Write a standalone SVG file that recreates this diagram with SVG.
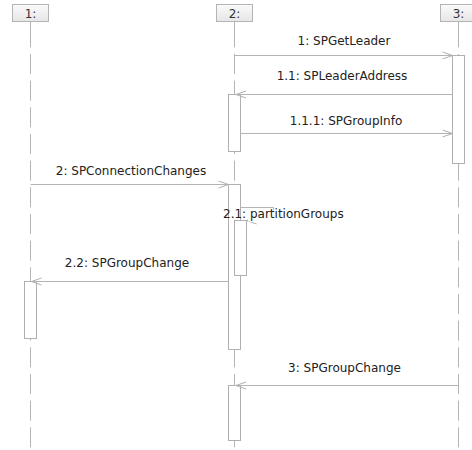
<svg xmlns="http://www.w3.org/2000/svg" width="472" height="450" viewBox="0 0 472 450">
  <defs>
    <linearGradient id="headFill" x1="0" y1="0" x2="0" y2="1">
      <stop offset="0" stop-color="#fafafa"/>
      <stop offset="1" stop-color="#e6e6e6"/>
    </linearGradient>
    <marker id="open" markerUnits="userSpaceOnUse" markerWidth="14" markerHeight="10" viewBox="-12 -5 14 10" refX="0" refY="0" orient="auto">
      <path d="M-10,-3.5 L0,0 L-10,3.5" fill="none" stroke="#b0b0b0" stroke-width="1"/>
    </marker>
  </defs>
  <style>
    .head { fill: url(#headFill); stroke: #b4b4b4; stroke-width: 1; }
    .headtxt { font-family: "DejaVu Sans", Verdana, sans-serif; font-size: 12px; fill: #333; text-anchor: middle; }
    .life { stroke: #b4b4b4; stroke-width: 1; fill: none; }
    .dash { stroke-dasharray: 20 6.67; }
    .act { fill: #ffffff; stroke: #b0b0b0; stroke-width: 1; }
    .msg { stroke: #b4b4b4; stroke-width: 1; fill: none; marker-end: url(#open); }
    .lbl { font-family: "DejaVu Sans", Verdana, sans-serif; font-size: 12px; fill: #222; text-anchor: middle; }
  </style>
  <rect width="472" height="450" fill="#ffffff"/>

  <!-- lifeline 1 -->
  <g id="obj1">
    <line class="life" x1="30.5" y1="21.5" x2="30.5" y2="27.3"/>
    <line class="life dash" x1="30.5" y1="27.3" x2="30.5" y2="450"/>
    <rect class="head" x="12.5" y="4.5" width="36" height="17"/>
    <text class="headtxt" x="30.5" y="17.5">1:</text>
    <rect class="act" x="24.5" y="281.5" width="12" height="57"/>
  </g>

  <!-- lifeline 2 -->
  <g id="obj2">
    <line class="life" x1="234.5" y1="21.5" x2="234.5" y2="27.3"/>
    <line class="life dash" x1="234.5" y1="27.3" x2="234.5" y2="450"/>
    <rect class="head" x="216.5" y="4.5" width="36" height="17"/>
    <text class="headtxt" x="234.5" y="17.5">2:</text>
    <rect class="act" x="228.5" y="94.5" width="12" height="57"/>
    <rect class="act" x="228.5" y="184.5" width="12" height="165"/>
    <rect class="act" x="234.5" y="220.5" width="12" height="55"/>
    <rect class="act" x="228.5" y="385.5" width="12" height="55"/>
  </g>

  <!-- lifeline 3 -->
  <g id="obj3">
    <line class="life" x1="458.5" y1="21.5" x2="458.5" y2="27.3"/>
    <line class="life dash" x1="458.5" y1="27.3" x2="458.5" y2="450"/>
    <rect class="head" x="440.5" y="4.5" width="36" height="17"/>
    <text class="headtxt" x="458.5" y="17.5">3:</text>
    <rect class="act" x="452.5" y="55.5" width="12" height="108"/>
  </g>

  <!-- messages -->
  <g id="messages">
    <line class="msg" x1="234.5" y1="55.5" x2="452.5" y2="55.5"/>
    <text class="lbl" x="344" y="45">1: SPGetLeader</text>

    <line class="msg" x1="452.5" y1="94.5" x2="236" y2="94.5"/>
    <text class="lbl" x="342" y="80">1.1: SPLeaderAddress</text>

    <line class="msg" x1="240.5" y1="133.5" x2="452.5" y2="133.5"/>
    <text class="lbl" x="346" y="125">1.1.1: SPGroupInfo</text>

    <line class="msg" x1="30.5" y1="184.5" x2="228.5" y2="184.5"/>
    <text class="lbl" x="131" y="175">2: SPConnectionChanges</text>

    <path class="msg" d="M240.5,207.5 H273.5 V220.5 H246.5"/>
    <rect x="248" y="210" width="100" height="11.5" fill="#ffffff"/>
    <text class="lbl" x="223" y="218" style="text-anchor:start">2.1: partitionGroups</text>

    <line class="msg" x1="228.5" y1="281.5" x2="31.5" y2="281.5"/>
    <text class="lbl" x="127" y="267">2.2: SPGroupChange</text>

    <line class="msg" x1="458.5" y1="385.5" x2="236" y2="385.5"/>
    <text class="lbl" x="344.5" y="371.5">3: SPGroupChange</text>
  </g>
</svg>
